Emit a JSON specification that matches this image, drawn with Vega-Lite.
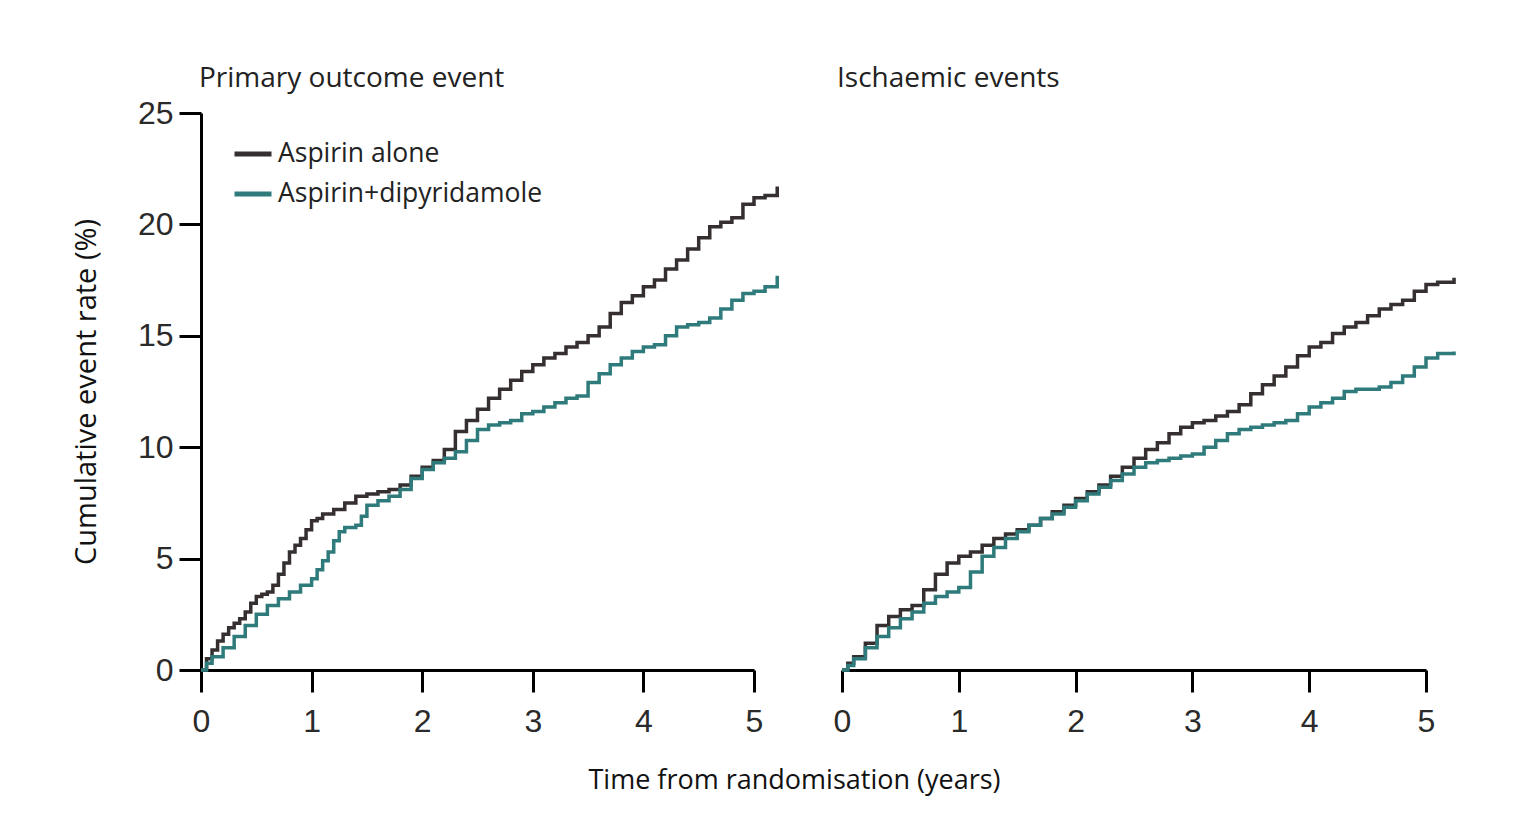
{
  "$schema": "https://vega.github.io/schema/vega-lite/v6.json",
  "background": "#ffffff",
  "padding": {"left": 72, "top": 65, "right": 10, "bottom": 10},
  "bounds": "flush",
  "spacing": 88,
  "datasets": {
    "curves": [
      {"panel": "P", "group": "Aspirin alone", "t": 0, "rate": 0},
      {"panel": "P", "group": "Aspirin alone", "t": 0.05, "rate": 0.5},
      {"panel": "P", "group": "Aspirin alone", "t": 0.1, "rate": 0.9},
      {"panel": "P", "group": "Aspirin alone", "t": 0.15, "rate": 1.3},
      {"panel": "P", "group": "Aspirin alone", "t": 0.2, "rate": 1.6},
      {"panel": "P", "group": "Aspirin alone", "t": 0.25, "rate": 1.9},
      {"panel": "P", "group": "Aspirin alone", "t": 0.3, "rate": 2.1},
      {"panel": "P", "group": "Aspirin alone", "t": 0.35, "rate": 2.3},
      {"panel": "P", "group": "Aspirin alone", "t": 0.4, "rate": 2.6},
      {"panel": "P", "group": "Aspirin alone", "t": 0.45, "rate": 3.0},
      {"panel": "P", "group": "Aspirin alone", "t": 0.5, "rate": 3.3},
      {"panel": "P", "group": "Aspirin alone", "t": 0.55, "rate": 3.4},
      {"panel": "P", "group": "Aspirin alone", "t": 0.6, "rate": 3.5},
      {"panel": "P", "group": "Aspirin alone", "t": 0.65, "rate": 3.8},
      {"panel": "P", "group": "Aspirin alone", "t": 0.7, "rate": 4.3},
      {"panel": "P", "group": "Aspirin alone", "t": 0.75, "rate": 4.8},
      {"panel": "P", "group": "Aspirin alone", "t": 0.8, "rate": 5.3},
      {"panel": "P", "group": "Aspirin alone", "t": 0.85, "rate": 5.6},
      {"panel": "P", "group": "Aspirin alone", "t": 0.9, "rate": 5.9},
      {"panel": "P", "group": "Aspirin alone", "t": 0.95, "rate": 6.3},
      {"panel": "P", "group": "Aspirin alone", "t": 1.0, "rate": 6.7},
      {"panel": "P", "group": "Aspirin alone", "t": 1.05, "rate": 6.8},
      {"panel": "P", "group": "Aspirin alone", "t": 1.1, "rate": 7.0},
      {"panel": "P", "group": "Aspirin alone", "t": 1.2, "rate": 7.2},
      {"panel": "P", "group": "Aspirin alone", "t": 1.3, "rate": 7.5},
      {"panel": "P", "group": "Aspirin alone", "t": 1.4, "rate": 7.8},
      {"panel": "P", "group": "Aspirin alone", "t": 1.5, "rate": 7.9},
      {"panel": "P", "group": "Aspirin alone", "t": 1.6, "rate": 8.0},
      {"panel": "P", "group": "Aspirin alone", "t": 1.7, "rate": 8.1},
      {"panel": "P", "group": "Aspirin alone", "t": 1.8, "rate": 8.3},
      {"panel": "P", "group": "Aspirin alone", "t": 1.9, "rate": 8.7},
      {"panel": "P", "group": "Aspirin alone", "t": 2.0, "rate": 9.1},
      {"panel": "P", "group": "Aspirin alone", "t": 2.1, "rate": 9.4},
      {"panel": "P", "group": "Aspirin alone", "t": 2.2, "rate": 9.9},
      {"panel": "P", "group": "Aspirin alone", "t": 2.3, "rate": 10.7},
      {"panel": "P", "group": "Aspirin alone", "t": 2.4, "rate": 11.2},
      {"panel": "P", "group": "Aspirin alone", "t": 2.5, "rate": 11.7},
      {"panel": "P", "group": "Aspirin alone", "t": 2.6, "rate": 12.2},
      {"panel": "P", "group": "Aspirin alone", "t": 2.7, "rate": 12.6},
      {"panel": "P", "group": "Aspirin alone", "t": 2.8, "rate": 13.0},
      {"panel": "P", "group": "Aspirin alone", "t": 2.9, "rate": 13.4},
      {"panel": "P", "group": "Aspirin alone", "t": 3.0, "rate": 13.7},
      {"panel": "P", "group": "Aspirin alone", "t": 3.1, "rate": 14.0},
      {"panel": "P", "group": "Aspirin alone", "t": 3.2, "rate": 14.2},
      {"panel": "P", "group": "Aspirin alone", "t": 3.3, "rate": 14.5},
      {"panel": "P", "group": "Aspirin alone", "t": 3.4, "rate": 14.7},
      {"panel": "P", "group": "Aspirin alone", "t": 3.5, "rate": 15.0},
      {"panel": "P", "group": "Aspirin alone", "t": 3.6, "rate": 15.4},
      {"panel": "P", "group": "Aspirin alone", "t": 3.7, "rate": 16.0},
      {"panel": "P", "group": "Aspirin alone", "t": 3.8, "rate": 16.5},
      {"panel": "P", "group": "Aspirin alone", "t": 3.9, "rate": 16.8},
      {"panel": "P", "group": "Aspirin alone", "t": 4.0, "rate": 17.2},
      {"panel": "P", "group": "Aspirin alone", "t": 4.1, "rate": 17.5},
      {"panel": "P", "group": "Aspirin alone", "t": 4.2, "rate": 18.0},
      {"panel": "P", "group": "Aspirin alone", "t": 4.3, "rate": 18.4},
      {"panel": "P", "group": "Aspirin alone", "t": 4.4, "rate": 18.9},
      {"panel": "P", "group": "Aspirin alone", "t": 4.5, "rate": 19.4},
      {"panel": "P", "group": "Aspirin alone", "t": 4.6, "rate": 19.9},
      {"panel": "P", "group": "Aspirin alone", "t": 4.7, "rate": 20.1},
      {"panel": "P", "group": "Aspirin alone", "t": 4.8, "rate": 20.3},
      {"panel": "P", "group": "Aspirin alone", "t": 4.9, "rate": 20.9},
      {"panel": "P", "group": "Aspirin alone", "t": 5.0, "rate": 21.2},
      {"panel": "P", "group": "Aspirin alone", "t": 5.1, "rate": 21.3},
      {"panel": "P", "group": "Aspirin alone", "t": 5.21, "rate": 21.7},
      {"panel": "P", "group": "Aspirin+dipyridamole", "t": 0, "rate": 0},
      {"panel": "P", "group": "Aspirin+dipyridamole", "t": 0.05, "rate": 0.3},
      {"panel": "P", "group": "Aspirin+dipyridamole", "t": 0.1, "rate": 0.6},
      {"panel": "P", "group": "Aspirin+dipyridamole", "t": 0.2, "rate": 1.0},
      {"panel": "P", "group": "Aspirin+dipyridamole", "t": 0.3, "rate": 1.5},
      {"panel": "P", "group": "Aspirin+dipyridamole", "t": 0.4, "rate": 2.0},
      {"panel": "P", "group": "Aspirin+dipyridamole", "t": 0.5, "rate": 2.5},
      {"panel": "P", "group": "Aspirin+dipyridamole", "t": 0.6, "rate": 2.9},
      {"panel": "P", "group": "Aspirin+dipyridamole", "t": 0.7, "rate": 3.2},
      {"panel": "P", "group": "Aspirin+dipyridamole", "t": 0.8, "rate": 3.5},
      {"panel": "P", "group": "Aspirin+dipyridamole", "t": 0.9, "rate": 3.8},
      {"panel": "P", "group": "Aspirin+dipyridamole", "t": 1.0, "rate": 4.1},
      {"panel": "P", "group": "Aspirin+dipyridamole", "t": 1.05, "rate": 4.5},
      {"panel": "P", "group": "Aspirin+dipyridamole", "t": 1.1, "rate": 4.9},
      {"panel": "P", "group": "Aspirin+dipyridamole", "t": 1.15, "rate": 5.3},
      {"panel": "P", "group": "Aspirin+dipyridamole", "t": 1.2, "rate": 5.8},
      {"panel": "P", "group": "Aspirin+dipyridamole", "t": 1.25, "rate": 6.2},
      {"panel": "P", "group": "Aspirin+dipyridamole", "t": 1.3, "rate": 6.4},
      {"panel": "P", "group": "Aspirin+dipyridamole", "t": 1.4, "rate": 6.5},
      {"panel": "P", "group": "Aspirin+dipyridamole", "t": 1.45, "rate": 6.9},
      {"panel": "P", "group": "Aspirin+dipyridamole", "t": 1.5, "rate": 7.4},
      {"panel": "P", "group": "Aspirin+dipyridamole", "t": 1.6, "rate": 7.6},
      {"panel": "P", "group": "Aspirin+dipyridamole", "t": 1.7, "rate": 7.8},
      {"panel": "P", "group": "Aspirin+dipyridamole", "t": 1.8, "rate": 8.1},
      {"panel": "P", "group": "Aspirin+dipyridamole", "t": 1.9, "rate": 8.6},
      {"panel": "P", "group": "Aspirin+dipyridamole", "t": 2.0, "rate": 9.0},
      {"panel": "P", "group": "Aspirin+dipyridamole", "t": 2.1, "rate": 9.3},
      {"panel": "P", "group": "Aspirin+dipyridamole", "t": 2.2, "rate": 9.5},
      {"panel": "P", "group": "Aspirin+dipyridamole", "t": 2.3, "rate": 9.8},
      {"panel": "P", "group": "Aspirin+dipyridamole", "t": 2.4, "rate": 10.3},
      {"panel": "P", "group": "Aspirin+dipyridamole", "t": 2.5, "rate": 10.8},
      {"panel": "P", "group": "Aspirin+dipyridamole", "t": 2.6, "rate": 11.0},
      {"panel": "P", "group": "Aspirin+dipyridamole", "t": 2.7, "rate": 11.1},
      {"panel": "P", "group": "Aspirin+dipyridamole", "t": 2.8, "rate": 11.2},
      {"panel": "P", "group": "Aspirin+dipyridamole", "t": 2.9, "rate": 11.5},
      {"panel": "P", "group": "Aspirin+dipyridamole", "t": 3.0, "rate": 11.6},
      {"panel": "P", "group": "Aspirin+dipyridamole", "t": 3.1, "rate": 11.8},
      {"panel": "P", "group": "Aspirin+dipyridamole", "t": 3.2, "rate": 12.0},
      {"panel": "P", "group": "Aspirin+dipyridamole", "t": 3.3, "rate": 12.2},
      {"panel": "P", "group": "Aspirin+dipyridamole", "t": 3.4, "rate": 12.3},
      {"panel": "P", "group": "Aspirin+dipyridamole", "t": 3.5, "rate": 12.9},
      {"panel": "P", "group": "Aspirin+dipyridamole", "t": 3.6, "rate": 13.3},
      {"panel": "P", "group": "Aspirin+dipyridamole", "t": 3.7, "rate": 13.7},
      {"panel": "P", "group": "Aspirin+dipyridamole", "t": 3.8, "rate": 14.0},
      {"panel": "P", "group": "Aspirin+dipyridamole", "t": 3.9, "rate": 14.3},
      {"panel": "P", "group": "Aspirin+dipyridamole", "t": 4.0, "rate": 14.5},
      {"panel": "P", "group": "Aspirin+dipyridamole", "t": 4.1, "rate": 14.6},
      {"panel": "P", "group": "Aspirin+dipyridamole", "t": 4.2, "rate": 15.0},
      {"panel": "P", "group": "Aspirin+dipyridamole", "t": 4.3, "rate": 15.4},
      {"panel": "P", "group": "Aspirin+dipyridamole", "t": 4.4, "rate": 15.5},
      {"panel": "P", "group": "Aspirin+dipyridamole", "t": 4.5, "rate": 15.6},
      {"panel": "P", "group": "Aspirin+dipyridamole", "t": 4.6, "rate": 15.8},
      {"panel": "P", "group": "Aspirin+dipyridamole", "t": 4.7, "rate": 16.2},
      {"panel": "P", "group": "Aspirin+dipyridamole", "t": 4.8, "rate": 16.6},
      {"panel": "P", "group": "Aspirin+dipyridamole", "t": 4.9, "rate": 16.9},
      {"panel": "P", "group": "Aspirin+dipyridamole", "t": 5.0, "rate": 17.0},
      {"panel": "P", "group": "Aspirin+dipyridamole", "t": 5.1, "rate": 17.2},
      {"panel": "P", "group": "Aspirin+dipyridamole", "t": 5.21, "rate": 17.7},
      {"panel": "I", "group": "Aspirin alone", "t": 0, "rate": 0},
      {"panel": "I", "group": "Aspirin alone", "t": 0.05, "rate": 0.3},
      {"panel": "I", "group": "Aspirin alone", "t": 0.1, "rate": 0.6},
      {"panel": "I", "group": "Aspirin alone", "t": 0.2, "rate": 1.2},
      {"panel": "I", "group": "Aspirin alone", "t": 0.3, "rate": 2.0},
      {"panel": "I", "group": "Aspirin alone", "t": 0.4, "rate": 2.4},
      {"panel": "I", "group": "Aspirin alone", "t": 0.5, "rate": 2.7},
      {"panel": "I", "group": "Aspirin alone", "t": 0.6, "rate": 2.9},
      {"panel": "I", "group": "Aspirin alone", "t": 0.7, "rate": 3.6},
      {"panel": "I", "group": "Aspirin alone", "t": 0.8, "rate": 4.3},
      {"panel": "I", "group": "Aspirin alone", "t": 0.9, "rate": 4.8},
      {"panel": "I", "group": "Aspirin alone", "t": 1.0, "rate": 5.1},
      {"panel": "I", "group": "Aspirin alone", "t": 1.1, "rate": 5.3},
      {"panel": "I", "group": "Aspirin alone", "t": 1.2, "rate": 5.6},
      {"panel": "I", "group": "Aspirin alone", "t": 1.3, "rate": 5.9},
      {"panel": "I", "group": "Aspirin alone", "t": 1.4, "rate": 6.1},
      {"panel": "I", "group": "Aspirin alone", "t": 1.5, "rate": 6.3},
      {"panel": "I", "group": "Aspirin alone", "t": 1.6, "rate": 6.5},
      {"panel": "I", "group": "Aspirin alone", "t": 1.7, "rate": 6.8},
      {"panel": "I", "group": "Aspirin alone", "t": 1.8, "rate": 7.1},
      {"panel": "I", "group": "Aspirin alone", "t": 1.9, "rate": 7.4},
      {"panel": "I", "group": "Aspirin alone", "t": 2.0, "rate": 7.7},
      {"panel": "I", "group": "Aspirin alone", "t": 2.1, "rate": 8.0},
      {"panel": "I", "group": "Aspirin alone", "t": 2.2, "rate": 8.3},
      {"panel": "I", "group": "Aspirin alone", "t": 2.3, "rate": 8.7},
      {"panel": "I", "group": "Aspirin alone", "t": 2.4, "rate": 9.1},
      {"panel": "I", "group": "Aspirin alone", "t": 2.5, "rate": 9.5},
      {"panel": "I", "group": "Aspirin alone", "t": 2.6, "rate": 9.9},
      {"panel": "I", "group": "Aspirin alone", "t": 2.7, "rate": 10.2},
      {"panel": "I", "group": "Aspirin alone", "t": 2.8, "rate": 10.6},
      {"panel": "I", "group": "Aspirin alone", "t": 2.9, "rate": 10.9},
      {"panel": "I", "group": "Aspirin alone", "t": 3.0, "rate": 11.1},
      {"panel": "I", "group": "Aspirin alone", "t": 3.1, "rate": 11.2},
      {"panel": "I", "group": "Aspirin alone", "t": 3.2, "rate": 11.4},
      {"panel": "I", "group": "Aspirin alone", "t": 3.3, "rate": 11.6},
      {"panel": "I", "group": "Aspirin alone", "t": 3.4, "rate": 11.9},
      {"panel": "I", "group": "Aspirin alone", "t": 3.5, "rate": 12.4},
      {"panel": "I", "group": "Aspirin alone", "t": 3.6, "rate": 12.8},
      {"panel": "I", "group": "Aspirin alone", "t": 3.7, "rate": 13.2},
      {"panel": "I", "group": "Aspirin alone", "t": 3.8, "rate": 13.6},
      {"panel": "I", "group": "Aspirin alone", "t": 3.9, "rate": 14.1},
      {"panel": "I", "group": "Aspirin alone", "t": 4.0, "rate": 14.5},
      {"panel": "I", "group": "Aspirin alone", "t": 4.1, "rate": 14.7},
      {"panel": "I", "group": "Aspirin alone", "t": 4.2, "rate": 15.1},
      {"panel": "I", "group": "Aspirin alone", "t": 4.3, "rate": 15.4},
      {"panel": "I", "group": "Aspirin alone", "t": 4.4, "rate": 15.6},
      {"panel": "I", "group": "Aspirin alone", "t": 4.5, "rate": 15.9},
      {"panel": "I", "group": "Aspirin alone", "t": 4.6, "rate": 16.2},
      {"panel": "I", "group": "Aspirin alone", "t": 4.7, "rate": 16.4},
      {"panel": "I", "group": "Aspirin alone", "t": 4.8, "rate": 16.6},
      {"panel": "I", "group": "Aspirin alone", "t": 4.9, "rate": 17.0},
      {"panel": "I", "group": "Aspirin alone", "t": 5.0, "rate": 17.3},
      {"panel": "I", "group": "Aspirin alone", "t": 5.1, "rate": 17.4},
      {"panel": "I", "group": "Aspirin alone", "t": 5.24, "rate": 17.6},
      {"panel": "I", "group": "Aspirin+dipyridamole", "t": 0, "rate": 0},
      {"panel": "I", "group": "Aspirin+dipyridamole", "t": 0.05, "rate": 0.2},
      {"panel": "I", "group": "Aspirin+dipyridamole", "t": 0.1, "rate": 0.5},
      {"panel": "I", "group": "Aspirin+dipyridamole", "t": 0.2, "rate": 1.0},
      {"panel": "I", "group": "Aspirin+dipyridamole", "t": 0.3, "rate": 1.5},
      {"panel": "I", "group": "Aspirin+dipyridamole", "t": 0.4, "rate": 1.9},
      {"panel": "I", "group": "Aspirin+dipyridamole", "t": 0.5, "rate": 2.3},
      {"panel": "I", "group": "Aspirin+dipyridamole", "t": 0.6, "rate": 2.6},
      {"panel": "I", "group": "Aspirin+dipyridamole", "t": 0.7, "rate": 3.0},
      {"panel": "I", "group": "Aspirin+dipyridamole", "t": 0.8, "rate": 3.3},
      {"panel": "I", "group": "Aspirin+dipyridamole", "t": 0.9, "rate": 3.5},
      {"panel": "I", "group": "Aspirin+dipyridamole", "t": 1.0, "rate": 3.7},
      {"panel": "I", "group": "Aspirin+dipyridamole", "t": 1.1, "rate": 4.4},
      {"panel": "I", "group": "Aspirin+dipyridamole", "t": 1.2, "rate": 5.1},
      {"panel": "I", "group": "Aspirin+dipyridamole", "t": 1.3, "rate": 5.5},
      {"panel": "I", "group": "Aspirin+dipyridamole", "t": 1.4, "rate": 5.9},
      {"panel": "I", "group": "Aspirin+dipyridamole", "t": 1.5, "rate": 6.2},
      {"panel": "I", "group": "Aspirin+dipyridamole", "t": 1.6, "rate": 6.5},
      {"panel": "I", "group": "Aspirin+dipyridamole", "t": 1.7, "rate": 6.8},
      {"panel": "I", "group": "Aspirin+dipyridamole", "t": 1.8, "rate": 7.0},
      {"panel": "I", "group": "Aspirin+dipyridamole", "t": 1.9, "rate": 7.3},
      {"panel": "I", "group": "Aspirin+dipyridamole", "t": 2.0, "rate": 7.6},
      {"panel": "I", "group": "Aspirin+dipyridamole", "t": 2.1, "rate": 7.9},
      {"panel": "I", "group": "Aspirin+dipyridamole", "t": 2.2, "rate": 8.2},
      {"panel": "I", "group": "Aspirin+dipyridamole", "t": 2.3, "rate": 8.5},
      {"panel": "I", "group": "Aspirin+dipyridamole", "t": 2.4, "rate": 8.8},
      {"panel": "I", "group": "Aspirin+dipyridamole", "t": 2.5, "rate": 9.1},
      {"panel": "I", "group": "Aspirin+dipyridamole", "t": 2.6, "rate": 9.3},
      {"panel": "I", "group": "Aspirin+dipyridamole", "t": 2.7, "rate": 9.4},
      {"panel": "I", "group": "Aspirin+dipyridamole", "t": 2.8, "rate": 9.5},
      {"panel": "I", "group": "Aspirin+dipyridamole", "t": 2.9, "rate": 9.6},
      {"panel": "I", "group": "Aspirin+dipyridamole", "t": 3.0, "rate": 9.7},
      {"panel": "I", "group": "Aspirin+dipyridamole", "t": 3.1, "rate": 10.0},
      {"panel": "I", "group": "Aspirin+dipyridamole", "t": 3.2, "rate": 10.3},
      {"panel": "I", "group": "Aspirin+dipyridamole", "t": 3.3, "rate": 10.6},
      {"panel": "I", "group": "Aspirin+dipyridamole", "t": 3.4, "rate": 10.8},
      {"panel": "I", "group": "Aspirin+dipyridamole", "t": 3.5, "rate": 10.9},
      {"panel": "I", "group": "Aspirin+dipyridamole", "t": 3.6, "rate": 11.0},
      {"panel": "I", "group": "Aspirin+dipyridamole", "t": 3.7, "rate": 11.1},
      {"panel": "I", "group": "Aspirin+dipyridamole", "t": 3.8, "rate": 11.2},
      {"panel": "I", "group": "Aspirin+dipyridamole", "t": 3.9, "rate": 11.5},
      {"panel": "I", "group": "Aspirin+dipyridamole", "t": 4.0, "rate": 11.8},
      {"panel": "I", "group": "Aspirin+dipyridamole", "t": 4.1, "rate": 12.0},
      {"panel": "I", "group": "Aspirin+dipyridamole", "t": 4.2, "rate": 12.2},
      {"panel": "I", "group": "Aspirin+dipyridamole", "t": 4.3, "rate": 12.5},
      {"panel": "I", "group": "Aspirin+dipyridamole", "t": 4.4, "rate": 12.6},
      {"panel": "I", "group": "Aspirin+dipyridamole", "t": 4.5, "rate": 12.6},
      {"panel": "I", "group": "Aspirin+dipyridamole", "t": 4.6, "rate": 12.7},
      {"panel": "I", "group": "Aspirin+dipyridamole", "t": 4.7, "rate": 12.9},
      {"panel": "I", "group": "Aspirin+dipyridamole", "t": 4.8, "rate": 13.2},
      {"panel": "I", "group": "Aspirin+dipyridamole", "t": 4.9, "rate": 13.6},
      {"panel": "I", "group": "Aspirin+dipyridamole", "t": 5.0, "rate": 14.0},
      {"panel": "I", "group": "Aspirin+dipyridamole", "t": 5.1, "rate": 14.2},
      {"panel": "I", "group": "Aspirin+dipyridamole", "t": 5.24, "rate": 14.3}
    ]
  },
  "config": {
    "font": "Open Sans",
    "view": {"stroke": null},
    "axis": {
      "grid": false,
      "domainColor": "#000000",
      "domainWidth": 3,
      "tickColor": "#000000",
      "tickWidth": 3,
      "tickSize": 22,
      "labelFont": "Liberation Sans",
      "labelFontSize": 32,
      "labelColor": "#2a2a2a",
      "labelFlush": false,
      "titleFont": "Open Sans",
      "titleFontSize": 27,
      "titleFontWeight": "normal",
      "titleColor": "#111111"
    },
    "title": {"font": "Open Sans", "fontSize": 28, "fontWeight": "normal", "color": "#222222", "anchor": "start", "frame": "group"}
  },
  "resolve": {"legend": {"color": "independent"}},
  "hconcat": [
    {
      "width": 553,
      "height": 557,
      "title": {"text": "Primary outcome event", "dx": -2, "offset": 4},
      "data": {"name": "curves"},
      "transform": [{"filter": "datum.panel === 'P'"}],
      "mark": {"type": "line", "interpolate": "step-after", "strokeWidth": 3.5, "clip": false},
      "encoding": {
        "x": {"field": "t", "type": "quantitative", "scale": {"domain": [0, 5], "nice": false},
          "axis": {"values": [0, 1, 2, 3, 4, 5], "format": "d", "labelFlush": false, "labelPadding": 14, "title": "Time from randomisation (years)", "titleX": 593, "titleY": 118, "titleAnchor": null, "titleAlign": "center", "titleBaseline": "alphabetic"}},
        "y": {"field": "rate", "type": "quantitative", "scale": {"domain": [0, 25], "nice": false},
          "axis": {"values": [0, 5, 10, 15, 20, 25], "labelPadding": 6, "title": "Cumulative event rate (%)", "titleFontSize": 29, "titlePadding": 36}},
        "color": {"field": "group", "type": "nominal",
          "scale": {"domain": ["Aspirin alone", "Aspirin+dipyridamole"], "range": ["#352f30", "#2f7b7c"]},
          "legend": {"title": null, "orient": "none", "legendX": 31, "legendY": 20, "symbolType": "stroke", "symbolSize": 1369, "symbolStrokeWidth": 5, "labelFont": "Open Sans", "labelFontSize": 26.5, "labelColor": "#222222", "labelOffset": 4, "rowPadding": 5, "labelLimit": 400}}
      }
    },
    {
      "width": 584,
      "height": 557,
      "title": {"text": "Ischaemic events", "dx": -5, "offset": 20},
      "data": {"name": "curves"},
      "transform": [{"filter": "datum.panel === 'I'"}],
      "mark": {"type": "line", "interpolate": "step-after", "strokeWidth": 3.5, "clip": false},
      "encoding": {
        "x": {"field": "t", "type": "quantitative", "scale": {"domain": [0, 5], "nice": false},
          "axis": {"values": [0, 1, 2, 3, 4, 5], "format": "d", "labelFlush": false, "labelPadding": 14, "title": null}},
        "y": {"field": "rate", "type": "quantitative", "scale": {"domain": [0, 25], "nice": false}, "axis": null},
        "color": {"field": "group", "type": "nominal",
          "scale": {"domain": ["Aspirin alone", "Aspirin+dipyridamole"], "range": ["#352f30", "#2f7b7c"]},
          "legend": null}
      }
    }
  ]
}
